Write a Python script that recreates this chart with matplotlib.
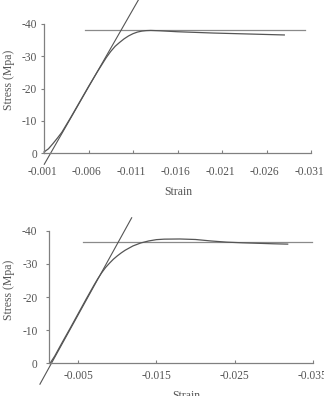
import matplotlib
matplotlib.use("Agg")
import matplotlib.pyplot as plt
import matplotlib.transforms as mtransforms
import numpy as np

plt.rcParams['font.family'] = ['Liberation Serif', 'DejaVu Serif']
plt.rcParams['axes.unicode_minus'] = False

# ---------------- data (strain, stress; compression negative) ----------------
# Top panel
top_strain = [-0.001, -0.0015, -0.002, -0.0025, -0.003, -0.004, -0.005, -0.006, -0.007,
              -0.0075, -0.008, -0.0085, -0.009, -0.0095, -0.010, -0.0105, -0.011, -0.0115,
              -0.012, -0.0125, -0.013, -0.014, -0.016, -0.018, -0.020, -0.022, -0.024,
              -0.026, -0.028]
top_stress = [-0.3, -1.3, -2.9, -4.6, -6.4, -11.0, -15.8, -20.6, -25.2,
              -27.4, -29.6, -31.5, -33.1, -34.3, -35.4, -36.3, -37.0, -37.5,
              -37.8, -37.95, -38.0, -37.9, -37.6, -37.4, -37.2, -37.05, -36.9,
              -36.75, -36.6]
top_tangent_strain = [-0.00103, -0.0123]
top_tangent_stress = [3.5, -50.8]
top_yield_strain = [-0.0056, -0.0303]
top_yield_stress = [-38.1, -38.1]
top_xticks = [-0.001, -0.006, -0.011, -0.016, -0.021, -0.026, -0.031]
top_xticklabels = ["-0.001", "-0.006", "-0.011", "-0.016", "-0.021", "-0.026", "-0.031"]

# Bottom panel
bot_strain = [-0.0014, -0.002, -0.003, -0.004, -0.005, -0.006, -0.007, -0.0075, -0.008,
              -0.0085, -0.009, -0.0095, -0.010, -0.0105, -0.011, -0.012, -0.013, -0.014,
              -0.015, -0.016, -0.018, -0.020, -0.022, -0.024, -0.026, -0.028, -0.030, -0.0318]
bot_stress = [0.0, -2.2, -6.5, -10.7, -15.0, -19.3, -23.5, -25.5, -27.3,
              -28.9, -30.2, -31.4, -32.4, -33.3, -34.1, -35.4, -36.3, -36.9,
              -37.3, -37.45, -37.5, -37.35, -36.9, -36.55, -36.35, -36.2, -36.05, -35.95]
bot_tangent_strain = [-0.0001, -0.01184]
bot_tangent_stress = [6.3, -43.9]
bot_yield_strain = [-0.00564, -0.0349]
bot_yield_stress = [-36.6, -36.6]
bot_xticks = [-0.005, -0.015, -0.025, -0.035]
bot_xticklabels = ["-0.005", "-0.015", "-0.025", "-0.035"]

yticks = [0, -10, -20, -30, -40]
yticklabels = ["0", "-10", "-20", "-30", "-40"]

# ---------------- figure ----------------
W, H = 324, 396
fig = plt.figure(figsize=(W / 100, H / 100), dpi=100)

def px_axes(left, right, top, bottom):
    return fig.add_axes([left / W, 1 - bottom / H, (right - left) / W, (bottom - top) / H])

ax1 = px_axes(44, 311, 24, 153)
ax2 = px_axes(49.3, 312.7, 230.7, 363.3)

curve_c = "#555555"
line_c = "#8a8a8a"
spine_c = "#808080"
text_c = "#555555"
fs = 8.3

def style(ax, xticks, xlabels, xlim, xpad, ypad, ylab_xy, xlab_xy, xshift=0.0):
    ax.set_xlim(*xlim)
    ax.set_ylim(0, -40)
    ax.set_xticks(xticks)
    ax.set_xticklabels(xlabels)
    ax.set_yticks(yticks)
    ax.set_yticklabels(yticklabels)
    for s in ("top", "right"):
        ax.spines[s].set_visible(False)
    for s in ("left", "bottom"):
        ax.spines[s].set_color(spine_c)
        ax.spines[s].set_linewidth(0.9)
    ax.tick_params(axis="x", direction="in", length=2.5, width=0.8, color=spine_c,
                   labelsize=fs, labelcolor=text_c, pad=xpad)
    ax.tick_params(axis="y", direction="out", length=2.5, width=0.8, color=spine_c,
                   labelsize=fs, labelcolor=text_c, pad=ypad)
    ax.set_ylabel("Stress (Mpa)", fontsize=fs + 0.2, color=text_c)
    ax.set_xlabel("Strain", fontsize=fs + 0.2, color=text_c)
    ax.yaxis.set_label_coords(*ylab_xy)
    ax.xaxis.set_label_coords(*xlab_xy)
    ax.patch.set_alpha(0)
    if xshift:
        off = mtransforms.ScaledTranslation(xshift / 100, 0, fig.dpi_scale_trans)
        for lab in ax.get_xticklabels():
            lab.set_transform(lab.get_transform() + off)

# top
ax1.plot(top_yield_strain, top_yield_stress, color=line_c, lw=0.9, clip_on=False)
ax1.plot(top_tangent_strain, top_tangent_stress, color=curve_c, lw=0.8, clip_on=False)
ax1.plot(top_strain, top_stress, color=curve_c, lw=0.9, clip_on=False)
style(ax1, top_xticks, top_xticklabels, (-0.001, -0.031), 9.5, 2.5,
      (-0.109, 0.566), (0.502, -0.255), xshift=-2.0)

# bottom
ax2.plot(bot_yield_strain, bot_yield_stress, color=line_c, lw=0.9, clip_on=False)
ax2.plot(bot_tangent_strain, bot_tangent_stress, color=curve_c, lw=0.8, clip_on=False)
ax2.plot(bot_strain, bot_stress, color=curve_c, lw=0.9, clip_on=False)
style(ax2, bot_xticks, bot_xticklabels, (-0.0013, -0.035), 5, 6,
      (-0.130, 0.553), (0.52, -0.2))

fig.savefig("out.png", dpi=100)
